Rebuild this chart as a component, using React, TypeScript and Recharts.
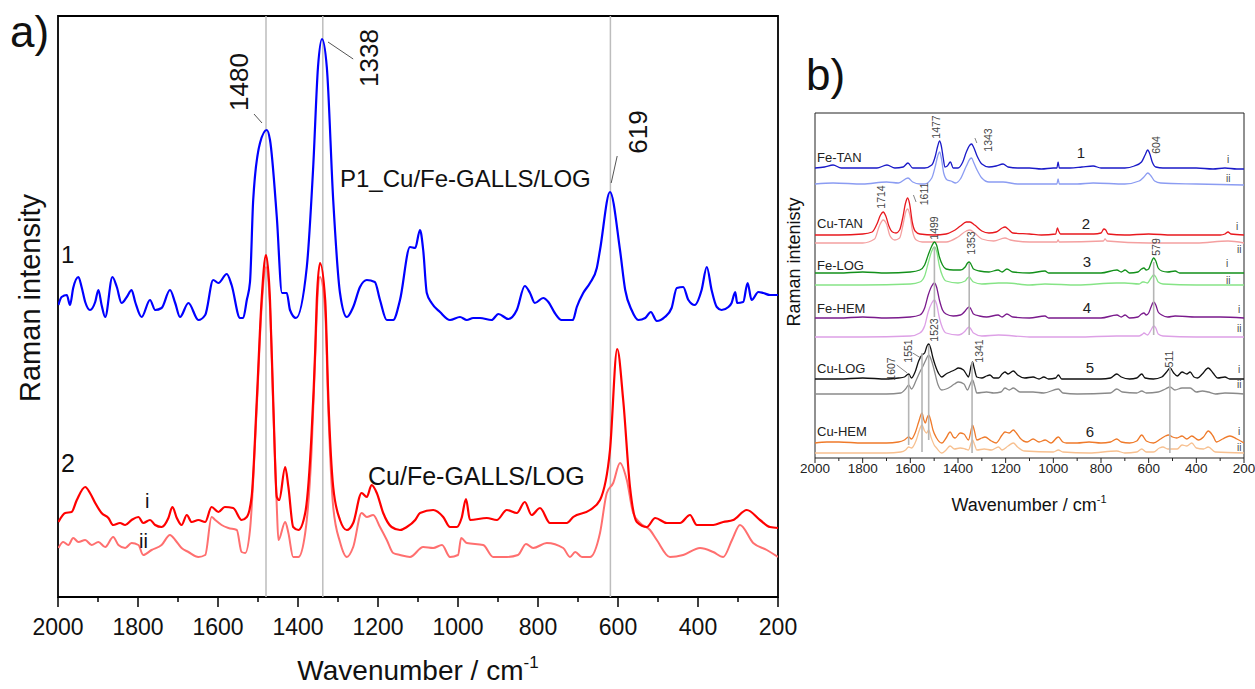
import React from 'react';
import { LineChart, Line, XAxis, YAxis, ReferenceLine, ReferenceArea } from 'recharts';

const FONT = "'Liberation Sans', Arial, Helvetica, sans-serif";

// ---------- Panel a) data (intensity in arbitrary units, offset spectra) ----------
const p1Wn = [1999,1991,1978,1970,1962,1949,1941,1932,1920,1907,1899,1891,1882,1864,1853,1841,1828,1816,1807,1791,1770,1757,1741,1720,1707,1695,1674,1649,1632,1612,1599,1578,1566,1545,1537,1528,1520,1512,1495,1478,1470,1453,1440,1428,1420,1405,1378,1362,1350,1340,1328,1312,1295,1278,1262,1245,1228,1208,1195,1178,1162,1145,1120,1107,1095,1087,1078,1066,1045,1020,995,978,962,945,916,899,874,853,833,820,808,787,774,758,741,713,703,687,670,653,645,620,595,582,566,549,532,518,503,483,466,453,437,424,408,391,378,366,353,341,324,316,307,302,287,276,266,249,237,220,200];
const p1Int = [292,300,302,292,309,320,310,295,287,295,307,292,280,320,310,294,300,307,295,280,297,287,289,307,294,280,294,277,282,317,314,323,312,279,279,297,315,397,454,467,457,380,304,304,287,279,330,430,530,558,530,397,304,280,290,310,317,315,297,277,277,297,350,349,367,347,304,294,285,277,280,277,279,279,277,283,278,287,311,304,294,299,295,284,277,277,290,304,314,329,347,405,347,307,287,277,279,285,276,280,289,309,310,297,292,307,330,307,290,287,290,294,305,294,295,314,297,305,304,302,302];

const s2iWn = [1999,1982,1966,1953,1932,1920,1907,1891,1874,1862,1845,1832,1816,1799,1787,1770,1757,1741,1724,1714,1703,1691,1678,1666,1649,1632,1616,1599,1583,1562,1541,1528,1516,1503,1491,1480,1470,1462,1453,1447,1432,1424,1412,1399,1382,1366,1357,1353,1345,1332,1324,1312,1295,1278,1262,1241,1228,1216,1203,1187,1166,1145,1128,1107,1095,1062,1037,1020,1003,991,980,970,928,903,878,853,833,816,795,770,728,712,670,645,620,602,587,570,553,528,507,478,445,420,403,362,337,312,278,245,220,200];
const s2iInt = [75,84,85,97,110,104,94,84,79,72,74,72,77,80,74,77,72,70,79,90,79,72,82,75,77,75,90,85,90,89,77,80,100,197,297,342,297,197,100,97,130,110,70,67,84,164,247,297,334,297,197,110,77,67,74,104,100,112,104,84,70,67,70,77,84,87,80,70,70,79,98,77,79,77,87,84,95,82,89,74,74,80,87,97,147,248,197,110,75,70,79,74,74,82,72,72,75,77,87,77,70,69];

const s2iiWn = [1999,1987,1974,1962,1949,1932,1916,1899,1882,1862,1849,1832,1816,1799,1787,1766,1741,1720,1707,1691,1674,1649,1632,1616,1607,1591,1574,1553,1541,1532,1520,1503,1491,1480,1470,1462,1453,1449,1432,1424,1412,1399,1382,1366,1357,1353,1345,1332,1324,1312,1295,1278,1262,1241,1228,1212,1195,1178,1162,1145,1120,1087,1062,1040,1020,1000,992,978,937,912,878,850,830,812,778,737,720,707,690,670,645,628,612,595,578,562,545,520,503,470,437,395,362,337,315,295,262,228,200];
const s2iiInt = [49,55,52,59,55,57,52,55,50,60,52,49,54,52,42,47,52,62,57,49,45,40,42,80,77,72,69,67,45,44,67,190,290,330,290,190,90,57,75,64,40,40,64,147,240,285,320,285,185,90,55,40,50,84,80,82,70,57,44,42,40,50,49,52,40,42,59,54,52,40,40,42,53,49,54,49,40,45,40,40,64,104,114,134,117,84,74,67,57,40,42,49,45,40,57,72,54,47,40];

const aMarkers = [1480, 1338, 619];
const aTicks = [2000,1900,1800,1700,1600,1500,1400,1300,1200,1100,1000,900,800,700,600,500,400,300,200];

// ---------- Panel b) data ----------
type P = [number, number];
const feTanI: P[] = [[2000,290],[1960,291],[1924,293],[1890,290],[1800,290],[1740,290],[1698,293],[1665,290],[1630,291],[1610,295],[1590,290],[1540,290],[1510,293],[1495,302],[1485,312],[1477,317],[1470,312],[1462,300],[1455,291],[1445,292],[1432,296],[1420,290],[1400,290],[1380,296],[1365,306],[1350,313],[1343,314],[1335,311],[1320,302],[1300,294],[1270,291],[1240,292],[1211,294],[1190,291],[1150,290],[1100,290],[1050,289],[1000,290],[985,290],[980,296],[975,290],[930,290],[880,291],[833,292],[800,290],[750,290],[700,290],[660,292],[630,296],[615,303],[604,308],[595,304],[585,296],[570,291],[540,290],[480,290],[400,290],[330,289],[280,290],[230,289],[200,289]];
const feTanII: P[] = [[2000,274],[1924,275],[1800,274],[1700,276],[1650,275],[1610,280],[1590,276],[1560,274],[1540,274],[1510,280],[1495,292],[1485,302],[1477,306],[1470,300],[1460,285],[1445,278],[1430,277],[1410,275],[1390,279],[1365,292],[1350,299],[1343,300],[1335,296],[1320,288],[1300,280],[1270,276],[1211,276],[1150,274],[1000,274],[985,274],[980,279],[975,274],[900,274],[833,275],[700,274],[640,277],[620,281],[604,285],[590,282],[575,277],[550,275],[400,274],[200,273]];
const cuTanI: P[] = [[2000,223],[1900,223],[1800,224],[1760,226],[1740,234],[1725,243],[1714,246],[1703,242],[1690,232],[1675,226],[1660,225],[1645,228],[1632,240],[1620,255],[1611,260],[1603,254],[1592,236],[1580,227],[1560,224],[1500,223],[1450,224],[1420,227],[1390,232],[1365,236],[1350,236],[1330,233],[1300,227],[1270,225],[1240,226],[1215,230],[1203,231],[1190,229],[1170,225],[1100,224],[1050,223],[990,224],[983,230],[978,227],[970,224],[900,224],[830,224],[800,225],[788,229],[780,228],[770,224],[700,223],[600,224],[500,223],[400,223],[300,223],[280,224],[267,226],[255,224],[200,223]];
const cuTanII: P[] = [[2000,215],[1800,215],[1750,219],[1730,232],[1714,238],[1700,234],[1685,222],[1665,218],[1645,220],[1630,234],[1618,247],[1611,249],[1602,243],[1590,226],[1575,218],[1550,216],[1450,216],[1400,221],[1365,227],[1350,228],[1330,225],[1300,219],[1250,217],[1203,220],[1180,218],[1100,216],[985,216],[980,218],[975,216],[790,217],[783,219],[775,217],[600,215],[400,215],[267,217],[200,215]];
const feLogI: P[] = [[2000,185],[1900,185],[1800,186],[1700,185],[1600,186],[1560,188],[1540,193],[1525,203],[1510,212],[1499,216],[1490,213],[1478,201],[1465,193],[1450,189],[1420,188],[1390,188],[1370,191],[1360,195],[1353,196],[1346,194],[1335,189],[1310,187],[1270,186],[1232,188],[1215,186],[1195,189],[1170,186],[1100,185],[1035,187],[1020,185],[900,185],[800,185],[733,188],[715,186],[699,188],[680,185],[645,186],[630,189],[620,190],[610,188],[600,189],[590,195],[579,200],[570,197],[560,190],[545,187],[520,186],[489,187],[470,185],[400,185],[300,185],[200,185]];
const feLogII: P[] = [[2000,173],[1800,173],[1600,174],[1560,176],[1540,182],[1525,195],[1510,207],[1499,211],[1490,207],[1478,192],[1465,182],[1450,177],[1400,175],[1370,177],[1360,180],[1353,181],[1346,179],[1335,176],[1300,174],[1230,175],[1195,175],[1100,173],[1035,174],[900,173],[735,175],[700,175],[640,174],[625,176],[620,176],[605,175],[590,180],[579,183],[570,181],[560,176],[540,174],[400,173],[200,173]];
const feHemI: P[] = [[2000,140],[1900,140],[1800,141],[1700,140],[1600,141],[1560,143],[1540,150],[1525,163],[1510,172],[1499,175],[1490,171],[1478,158],[1465,148],[1450,144],[1420,142],[1390,143],[1370,147],[1360,150],[1353,151],[1346,149],[1335,144],[1310,142],[1280,141],[1232,143],[1215,141],[1195,144],[1170,141],[1100,140],[1035,142],[1020,140],[900,140],[800,140],[733,143],[715,141],[699,143],[680,140],[645,141],[630,144],[620,145],[610,143],[600,145],[590,151],[579,156],[570,153],[560,146],[545,143],[520,141],[489,142],[400,141],[300,141],[200,140]];
const feHemII: P[] = [[2000,121],[1800,121],[1600,122],[1560,125],[1540,132],[1525,146],[1510,155],[1499,158],[1490,154],[1478,140],[1465,130],[1450,125],[1400,123],[1370,127],[1360,130],[1353,131],[1346,129],[1335,125],[1300,122],[1230,123],[1100,121],[900,121],[735,122],[640,122],[625,124],[620,125],[605,123],[590,128],[579,132],[570,130],[560,124],[540,122],[400,121],[200,121]];
const cuLogI: P[] = [[2000,79],[1900,79],[1800,80],[1700,79],[1650,80],[1625,81],[1607,84],[1595,80],[1580,86],[1565,97],[1551,103],[1540,105],[1530,112],[1523,114],[1515,110],[1505,100],[1496,93],[1480,84],[1468,81],[1450,84],[1433,86],[1415,88],[1398,90],[1377,88],[1360,82],[1356,81],[1345,92],[1339,96],[1332,90],[1321,81],[1300,80],[1280,82],[1266,83],[1250,80],[1230,80],[1215,84],[1203,86],[1190,84],[1168,87],[1150,83],[1120,80],[1085,81],[1060,79],[1040,81],[1020,79],[990,80],[979,83],[965,79],[900,79],[850,79],[800,79],[760,80],[734,84],[715,81],[680,79],[650,80],[629,84],[615,80],[580,79],[545,81],[525,86],[510,90],[495,85],[480,82],[460,86],[440,84],[426,86],[410,81],[395,80],[375,84],[350,90],[330,85],[310,80],[280,81],[260,79],[230,79],[200,79]];
const cuLogII: P[] = [[2000,64],[1800,64],[1700,64],[1640,65],[1620,69],[1607,73],[1595,69],[1575,78],[1560,86],[1551,90],[1535,98],[1523,103],[1512,98],[1500,88],[1485,74],[1468,68],[1450,69],[1433,71],[1415,74],[1398,76],[1375,74],[1360,68],[1350,73],[1339,78],[1330,72],[1321,65],[1280,66],[1250,65],[1220,66],[1203,70],[1185,68],[1168,70],[1140,66],[1085,66],[1040,65],[979,69],[960,65],[900,64],[760,65],[734,69],[710,66],[650,65],[629,67],[610,65],[560,66],[530,69],[510,71],[490,68],[460,70],[426,70],[400,66],[375,67],[350,66],[320,64],[280,65],[200,64]];
const cuHemI: P[] = [[2000,15],[1950,16],[1900,16],[1800,15],[1700,15],[1650,16],[1625,18],[1607,21],[1595,19],[1580,25],[1565,36],[1551,45],[1543,38],[1537,35],[1530,40],[1523,43],[1515,38],[1505,28],[1490,20],[1468,15],[1450,20],[1433,26],[1420,21],[1412,20],[1391,25],[1375,24],[1356,18],[1345,28],[1339,33],[1332,28],[1321,18],[1300,20],[1287,21],[1260,17],[1240,15],[1215,23],[1203,26],[1185,25],[1168,28],[1155,25],[1140,20],[1110,16],[1085,19],[1060,16],[1034,18],[1010,15],[979,21],[960,16],[945,15],[900,15],[850,16],[800,15],[760,16],[734,19],[715,16],[680,15],[650,17],[629,23],[610,17],[580,15],[550,19],[530,22],[517,23],[500,21],[482,20],[460,22],[440,19],[419,22],[391,18],[370,21],[350,27],[330,22],[315,16],[290,19],[259,22],[230,19],[200,15]];
const cuHemII: P[] = [[2000,5],[1800,5],[1700,5],[1640,6],[1620,8],[1607,11],[1595,10],[1575,18],[1562,28],[1551,33],[1540,27],[1532,25],[1523,28],[1512,20],[1500,13],[1490,10],[1468,5],[1450,8],[1433,12],[1415,9],[1391,10],[1370,9],[1356,8],[1345,15],[1339,18],[1330,13],[1321,8],[1290,9],[1260,8],[1230,11],[1215,8],[1190,12],[1168,15],[1150,11],[1120,7],[1000,6],[979,8],[960,6],[850,5],[734,7],[700,5],[650,6],[629,9],[610,6],[580,6],[555,10],[540,11],[520,9],[480,9],[460,13],[440,12],[419,15],[400,10],[370,9],[350,11],[320,6],[200,5]];

const bTicks = aTicks;

// marker segments in panel b: [wavenumber, from, to]
const bMarkers: [number, number, number][] = [
  [1499, 211, 141], [1353, 195, 123], [579, 196, 123],
  [1607, 83, 13], [1551, 105, 6], [1523, 113, 18], [1341, 96, 5], [511, 90, 5],
];

const toData = (wn: number[], v: number[]) => wn.map((w, i) => ({ wn: w, v: v[i] }));
const fromPairs = (p: P[]) => p.map(([w, v]) => ({ wn: w, v }));

const ATick = (props: any) => {
  const { x, y, payload } = props;
  const major = payload.value % 200 === 0;
  return (
    <g>
      <line x1={x} x2={x} y1={y} y2={y + (major ? 10 : 5)} stroke="#000" strokeWidth={1.5} />
      {major && (
        <text x={x} y={y + 38} textAnchor="middle" fontSize={23} fontFamily={FONT} fill="#111">
          {payload.value}
        </text>
      )}
    </g>
  );
};

const BTick = (props: any) => {
  const { x, y, payload } = props;
  const major = payload.value % 200 === 0;
  return (
    <g>
      <line x1={x} x2={x} y1={y} y2={y + (major ? 5 : 3)} stroke="#222" strokeWidth={1} />
      {major && (
        <text x={x} y={y + 15} textAnchor="middle" fontSize={13.5} fontFamily={FONT} fill="#222">
          {payload.value}
        </text>
      )}
    </g>
  );
};

const bSeries: { d: P[]; c: string }[] = [
  { d: feTanII, c: '#8b9cf2' }, { d: feTanI, c: '#1a1ac8' },
  { d: cuTanII, c: '#f4a0a0' }, { d: cuTanI, c: '#e8181e' },
  { d: feLogII, c: '#86e486' }, { d: feLogI, c: '#12901a' },
  { d: feHemII, c: '#dda0e6' }, { d: feHemI, c: '#7a1a8c' },
  { d: cuLogII, c: '#8a8a8a' }, { d: cuLogI, c: '#111111' },
  { d: cuHemII, c: '#f7c090' }, { d: cuHemI, c: '#ef7a2a' },
];

const rot = (x: number, y: number, t: string, size: number, fill = '#111') => (
  <text key={t + x} x={x} y={y} transform={`rotate(-90 ${x} ${y})`} textAnchor="middle" fontSize={size} fill={fill} fontFamily={FONT}>
    {t}
  </text>
);

const txt = (x: number, y: number, t: string, size: number, fill = '#111', anchor: any = 'start') => (
  <text key={t + x + y} x={x} y={y} fontSize={size} fill={fill} fontFamily={FONT} textAnchor={anchor}>
    {t}
  </text>
);

export default function App() {
  return (
    <div style={{ position: 'absolute', left: 0, top: 0, width: 1255, height: 689, background: '#fff', overflow: 'hidden' }}>
      <div style={{ position: 'absolute', left: 0, top: 0 }}>
        <LineChart width={800} height={689} margin={{ top: 16, left: 58, right: 22, bottom: 32 }}>
          <XAxis dataKey="wn" type="number" domain={[200, 2000]} reversed allowDataOverflow ticks={aTicks} interval={0}
            tickSize={0} tickMargin={0} tickLine={false} axisLine={false} height={60} tick={(p: any) => <ATick {...p} />} />
          <YAxis hide width={0} type="number" domain={[0, 581]} allowDataOverflow />
          {aMarkers.map((m) => (
            <ReferenceLine key={m} x={m} stroke="#bdbdbd" strokeWidth={1.5} />
          ))}
          <Line data={toData(s2iiWn, s2iiInt)} dataKey="v" type="monotone" dot={false} stroke="#ff6f6f" strokeWidth={2} isAnimationActive={false} />
          <Line data={toData(s2iWn, s2iInt)} dataKey="v" type="monotone" dot={false} stroke="#ff0000" strokeWidth={2.2} isAnimationActive={false} />
          <Line data={toData(p1Wn, p1Int)} dataKey="v" type="monotone" dot={false} stroke="#0000ff" strokeWidth={2.2} isAnimationActive={false} />
          <ReferenceLine segment={[{ x: 1510, y: 483 }, { x: 1490, y: 474 }]} stroke="#555" strokeWidth={1} />
          <ReferenceLine segment={[{ x: 1325, y: 555 }, { x: 1262, y: 538 }]} stroke="#555" strokeWidth={1} />
          <ReferenceLine segment={[{ x: 602, y: 441 }, { x: 617, y: 414 }]} stroke="#555" strokeWidth={1} />
          <ReferenceArea x1={2000} x2={200} y1={0} y2={581} fill="none" stroke="#000" strokeWidth={1.8} />
        </LineChart>
      </div>
      <div style={{ position: 'absolute', left: 800, top: 0 }}>
        <LineChart width={455} height={689} margin={{ top: 113, left: 15, right: 11, bottom: 191 }}>
          <XAxis dataKey="wn" type="number" domain={[200, 2000]} reversed allowDataOverflow ticks={bTicks} interval={0}
            tickSize={0} tickMargin={0} tickLine={false} axisLine={false} height={40} tick={(p: any) => <BTick {...p} />} />
          <YAxis hide width={0} type="number" domain={[0, 345]} allowDataOverflow />
          {bSeries.map((s, i) => (
            <Line key={i} data={fromPairs(s.d)} dataKey="v" type="monotone" dot={false} stroke={s.c} strokeWidth={1.3} isAnimationActive={false} />
          ))}
          {bMarkers.map(([w, a, b]) => (
            <ReferenceLine key={w} segment={[{ x: w, y: a }, { x: w, y: b }]} stroke="#b5b5b5" strokeWidth={1.6} />
          ))}
          <ReferenceLine segment={[{ x: 1587, y: 263 }, { x: 1576, y: 256 }]} stroke="#666" strokeWidth={0.8} />
          <ReferenceLine segment={[{ x: 1329, y: 320 }, { x: 1321, y: 315 }]} stroke="#666" strokeWidth={0.8} />
          <ReferenceLine segment={[{ x: 1657, y: 93 }, { x: 1613, y: 85 }]} stroke="#666" strokeWidth={0.8} />
          <ReferenceLine segment={[{ x: 1590, y: 105 }, { x: 1556, y: 100 }]} stroke="#666" strokeWidth={0.8} />
          <ReferenceArea x1={2000} x2={200} y1={0} y2={345} fill="none" stroke="#222" strokeWidth={1} />
        </LineChart>
      </div>
      <svg width={1255} height={689} style={{ position: 'absolute', left: 0, top: 0, pointerEvents: 'none' }}>
        {/* panel a */}
        {txt(10, 47, 'a)', 44)}
        <text x={418} y={680} textAnchor="middle" fontSize={28} fontFamily={FONT} fill="#111">
          Wavenumber / cm<tspan dy={-12} fontSize={17}>-1</tspan>
        </text>
        {rot(40, 298, 'Raman intensity', 29)}
        {rot(248, 82, '1480', 26)}
        {rot(378, 58, '1338', 26)}
        {rot(647, 132, '619', 26)}
        {txt(340, 187, 'P1_Cu/Fe-GALLS/LOG', 24)}
        {txt(368, 485, 'Cu/Fe-GALLS/LOG', 25)}
        {txt(61, 263, '1', 24)}
        {txt(61, 472, '2', 25)}
        {txt(145, 508, 'i', 20)}
        {txt(139, 548, 'ii', 20)}
        {/* panel b */}
        {txt(806, 90, 'b)', 44)}
        <text x={1029} y={511} textAnchor="middle" fontSize={18} fontFamily={FONT} fill="#111">
          Wavenumber / cm<tspan dy={-8} fontSize={11}>-1</tspan>
        </text>
        {rot(800, 262, 'Raman intenisty', 18)}
        {txt(817, 162, 'Fe-TAN', 13, '#222')}
        {txt(817, 228, 'Cu-TAN', 13, '#222')}
        {txt(817, 270, 'Fe-LOG', 13, '#222')}
        {txt(817, 313, 'Fe-HEM', 13, '#222')}
        {txt(817, 373, 'Cu-LOG', 13, '#222')}
        {txt(817, 436, 'Cu-HEM', 13, '#222')}
        {txt(1081, 158, '1', 15, '#222', 'middle')}
        {txt(1086, 229, '2', 15, '#222', 'middle')}
        {txt(1087, 267, '3', 15, '#222', 'middle')}
        {txt(1087, 313, '4', 15, '#222', 'middle')}
        {txt(1090, 373, '5', 15, '#222', 'middle')}
        {txt(1090, 437, '6', 15, '#222', 'middle')}
        {txt(1227, 163, 'i', 10, '#444')}
        {txt(1226, 182, 'ii', 10, '#444')}
        {txt(1236, 230, 'i', 10, '#444')}
        {txt(1237, 253, 'ii', 10, '#444')}
        {txt(1226, 267, 'i', 10, '#444')}
        {txt(1226, 284, 'ii', 10, '#444')}
        {txt(1238, 313, 'i', 10, '#444')}
        {txt(1237, 332, 'ii', 10, '#444')}
        {txt(1238, 373, 'i', 10, '#444')}
        {txt(1237, 388, 'ii', 10, '#444')}
        {txt(1238, 435, 'i', 10, '#444')}
        {txt(1237, 451, 'ii', 10, '#444')}
        {rot(940, 127, '1477', 10.5, '#444')}
        {rot(992, 140, '1343', 10.5, '#444')}
        {rot(1160, 145, '604', 10.5, '#444')}
        {rot(885, 197, '1714', 10.5, '#444')}
        {rot(928, 194, '1611', 10.5, '#444')}
        {rot(938, 228, '1499', 10.5, '#444')}
        {rot(975, 243, '1353', 10.5, '#444')}
        {rot(1160, 247, '579', 10.5, '#444')}
        {rot(895, 369, '1607', 10.5, '#444')}
        {rot(912, 351, '1551', 10.5, '#444')}
        {rot(938, 330, '1523', 10.5, '#444')}
        {rot(983, 351, '1341', 10.5, '#444')}
        {rot(1173, 359, '511', 10.5, '#444')}
      </svg>
    </div>
  );
}
